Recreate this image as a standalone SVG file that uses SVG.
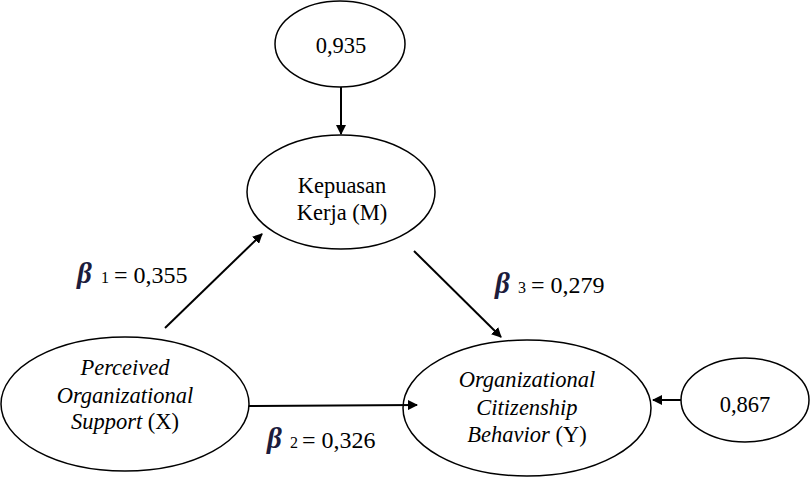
<svg xmlns="http://www.w3.org/2000/svg" width="812" height="478" viewBox="0 0 812 478">
<style>
.n{fill:#fff;stroke:#000;stroke-width:1.5}
.t{font-family:"Liberation Serif","Times New Roman","DejaVu Serif",serif;font-size:22.5px;fill:#000;text-anchor:middle}
.i{font-style:italic}
.c{stroke:#000;stroke-width:2;fill:none;marker-end:url(#ah)}
.l{font-family:"Liberation Serif","Times New Roman","DejaVu Serif",serif;font-size:24px;fill:#000}
.b{font-style:italic;font-weight:bold;fill:#1c1c3c;font-size:29px}
.s{font-size:16px}
</style>
<defs>
<marker id="ah" markerWidth="10" markerHeight="10" refX="9" refY="5" orient="auto" markerUnits="userSpaceOnUse">
<path d="M0,0 L10,5 L0,10 Z" fill="#000"/>
</marker>
</defs>
<rect width="812" height="478" fill="#fff"/>
<g id="e1">
<ellipse class="n" cx="340" cy="44" rx="65" ry="43"/>
<text class="t" x="341" y="53">0,935</text>
</g>
<g id="m">
<ellipse class="n" cx="341" cy="192" rx="94" ry="57"/>
<text class="t" x="342" y="193">Kepuasan</text>
<text class="t" x="342" y="220">Kerja (M)</text>
</g>
<g id="x">
<ellipse class="n" cx="125" cy="404" rx="124" ry="67"/>
<text class="t i" x="125" y="375">Perceived</text>
<text class="t i" x="125" y="403">Organizational</text>
<text class="t" x="125" y="429"><tspan class="i">Support</tspan> (X)</text>
</g>
<g id="y">
<ellipse class="n" cx="527" cy="408" rx="124" ry="68"/>
<text class="t i" x="527" y="387">Organizational</text>
<text class="t i" x="527" y="415">Citizenship</text>
<text class="t" x="527" y="442"><tspan class="i">Behavior</tspan> (Y)</text>
</g>
<g id="e2">
<ellipse class="n" cx="745" cy="400" rx="64" ry="42"/>
<text class="t" x="745" y="412">0,867</text>
</g>
<g id="connectors">
<line class="c" x1="341" y1="87" x2="341" y2="134"/>
<line class="c" x1="165" y1="328" x2="262" y2="234"/>
<line class="c" x1="414" y1="251" x2="501" y2="337"/>
<line class="c" x1="249" y1="406" x2="417" y2="405"/>
<line class="c" x1="681" y1="400" x2="653" y2="400"/>
</g>
<g id="labels">
<text class="l" y="283"><tspan class="b" x="77">β</tspan><tspan class="s" x="101">1</tspan><tspan x="114">= 0,355</tspan></text>
<text class="l" y="293"><tspan class="b" x="495">β</tspan><tspan class="s" x="518">3</tspan><tspan x="531">= 0,279</tspan></text>
<text class="l" y="448"><tspan class="b" x="267">β</tspan><tspan class="s" x="290">2</tspan><tspan x="302">= 0,326</tspan></text>
</g>
</svg>
